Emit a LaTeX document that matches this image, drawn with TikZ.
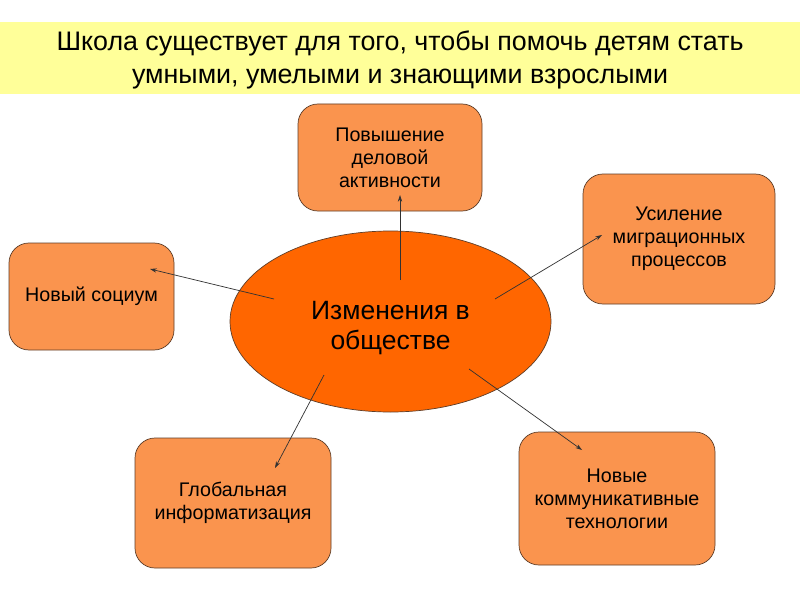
\documentclass[tikz,border=0pt]{standalone}
\usepackage{fontspec}
\setmainfont{Liberation Sans}
\usepackage{xcolor}
\usepackage{tikz}
\usetikzlibrary{positioning,arrows.meta,shapes.geometric,calc}
\definecolor{bannerYellow}{RGB}{255,255,153}
\definecolor{boxOrange}{RGB}{250,148,78}
\definecolor{ellOrange}{RGB}{255,102,0}
\definecolor{edgeBrown}{RGB}{95,62,40}
\definecolor{arrGray}{RGB}{50,50,50}

\begin{document}
\begin{tikzpicture}[
    box/.style={rectangle, draw=edgeBrown, line width=0.6pt, fill=boxOrange, rounded corners=0.6cm, align=center, inner sep=0pt, font=\fontsize{16.8}{19.5}\selectfont},
    link/.style={-{Stealth[length=2mm, width=1.3mm]}, arrGray, line width=0.6pt}]
  \useasboundingbox (0,0) rectangle (24,18);
  \fill[white] (0,0) rectangle (24,18);

  % title banner
  \fill[bannerYellow] (0,15.18) rectangle (24,17.34);
  \node[align=center, font=\fontsize{22.9}{27.8}\selectfont] (title) at (12,16.2) {Школа существует для того, чтобы помочь детям стать\\умными, умелыми и знающими взрослыми};

  % centre
  \node[ellipse, draw=edgeBrown, line width=0.6pt, fill=ellOrange, minimum width=9.63cm, minimum height=5.43cm, inner sep=0pt,
        label={[align=center, font=\fontsize{22.6}{26}\selectfont, yshift=-0.2cm]center:Изменения в\\обществе}] (change) at (11.715,8.355) {};

  % boxes
  \node[box, minimum width=5.52cm, minimum height=3.21cm] (activ) at (11.7,13.275) {Повышение\\деловой\\активности};
  \node[box, minimum width=5.76cm, minimum height=3.9cm] (migr) at (20.37,10.83) {Усиление\\миграционных\\процессов};
  \node[box, minimum width=4.95cm, minimum height=3.21cm] (socium) at (2.745,9.105) {Новый социум};
  \node[box, minimum width=5.88cm, minimum height=3.9cm] (inform) at (6.99,2.91) {Глобальная\\информатизация};
  \node[box, minimum width=5.88cm, minimum height=3.99cm] (tech) at (18.51,3.045) {Новые\\коммуникативные\\технологии};

  % arrows
  \draw[link] ($(change.center)+(0.285,1.245)$) -- ($(activ.center)+(0.3,-1.125)$);
  \draw[link] ($(change.center)+(-3.495,0.675)$) -- ($(socium.center)+(1.755,0.825)$);
  \draw[link] ($(change.center)+(3.135,0.675)$) -- ($(migr.center)+(-2.31,0.12)$);
  \draw[link] ($(change.center)+(-1.995,-1.605)$) -- ($(inform.center)+(1.26,1.05)$);
  \draw[link] ($(change.center)+(2.355,-1.425)$) -- ($(tech.center)+(-1.05,1.455)$);
\end{tikzpicture}
\end{document}
